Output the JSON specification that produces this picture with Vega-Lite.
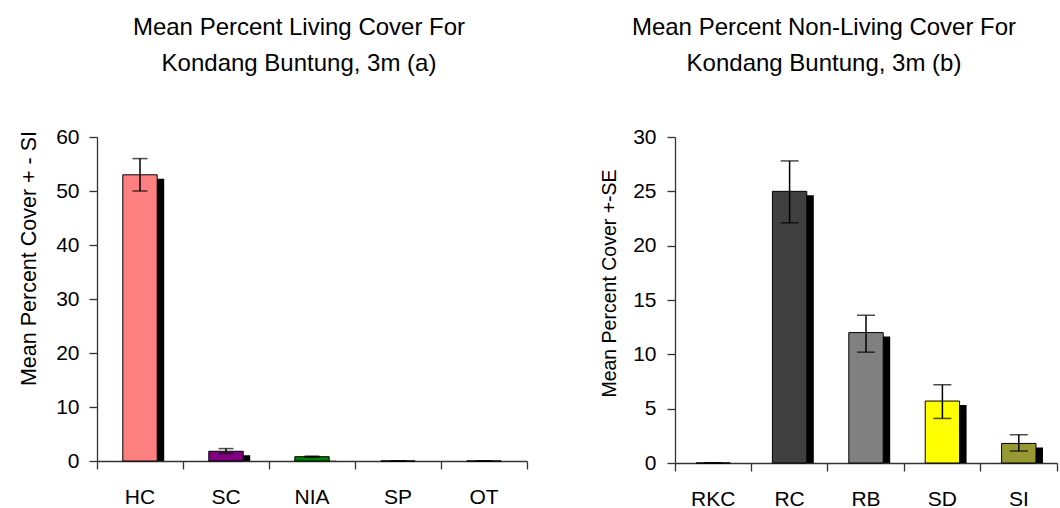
{
  "$schema": "https://vega.github.io/schema/vega-lite/v6.json",
  "padding": {"left": 17, "top": 16, "right": 4, "bottom": 0},
  "background": "white",
  "bounds": "flush",
  "spacing": 148,
  "resolve": {"scale": {"color": "independent"}},
  "config": {
    "font": "Liberation Sans, Arial, sans-serif",
    "view": {"stroke": null},
    "axis": {
      "labelFont": "Liberation Sans, Arial, sans-serif",
      "labelFontSize": 21,
      "labelColor": "black",
      "titleFont": "Liberation Sans, Arial, sans-serif",
      "titleFontSize": 21.5,
      "titleFontWeight": "normal",
      "titleColor": "black",
      "domainColor": "#333333",
      "tickColor": "#333333",
      "domainWidth": 1.3,
      "tickWidth": 1.3,
      "tickSize": 8,
      "grid": false
    },
    "title": {
      "font": "Liberation Sans, Arial, sans-serif",
      "fontSize": 24,
      "fontWeight": "normal",
      "color": "black",
      "lineHeight": 36,
      "anchor": "middle"
    }
  },
  "datasets": {
    "living": [
      {"cat": "HC", "mean": 53.0, "lo": 50.0, "hi": 56.0},
      {"cat": "SC", "mean": 1.8, "lo": 1.4, "hi": 2.3},
      {"cat": "NIA", "mean": 0.8, "lo": 0.7, "hi": 0.9},
      {"cat": "SP", "mean": 0.0, "lo": 0.0, "hi": 0.0},
      {"cat": "OT", "mean": 0.0, "lo": 0.0, "hi": 0.0}
    ],
    "nonliving": [
      {"cat": "RKC", "mean": 0.0, "lo": 0.0, "hi": 0.0},
      {"cat": "RC", "mean": 25.0, "lo": 22.1, "hi": 27.8},
      {"cat": "RB", "mean": 12.0, "lo": 10.2, "hi": 13.6},
      {"cat": "SD", "mean": 5.7, "lo": 4.1, "hi": 7.2},
      {"cat": "SI", "mean": 1.8, "lo": 1.1, "hi": 2.6}
    ]
  },
  "hconcat": [
    {
      "width": 430,
      "height": 324,
      "title": {"text": ["Mean Percent Living Cover For", "Kondang Buntung, 3m (a)"], "dx": -13, "offset": 50},
      "data": {"name": "living"},
      "encoding": {
        "x": {
          "field": "cat", "type": "nominal", "sort": null,
          "scale": {"paddingInner": 0, "paddingOuter": 0},
          "axis": {"title": null, "labelAngle": 0, "bandPosition": 1, "tickExtra": true, "labelPadding": 17, "labelBaseline": "top"}
        }
      },
      "layer": [
        {
          "mark": {"type": "bar", "width": {"band": 0.4}, "color": "black", "xOffset": 7, "x2Offset": 7, "yOffset": 4, "clip": true},
          "encoding": {
            "y": {"field": "mean", "type": "quantitative", "scale": {"domain": [0, 60]},
              "axis": {"values": [0, 10, 20, 30, 40, 50, 60], "title": "Mean Percent Cover + - SI", "labelPadding": 10, "titleX": -68, "titleY": 121, "titleAlign": "center", "titleBaseline": "middle", "titleAngle": -90}}
          }
        },
        {
          "mark": {"type": "bar", "width": {"band": 0.4}, "stroke": "black", "strokeWidth": 1},
          "encoding": {
            "y": {"field": "mean", "type": "quantitative"},
            "color": {"field": "cat", "type": "nominal", "legend": null,
              "scale": {"domain": ["HC", "SC", "NIA", "SP", "OT"], "range": ["#FF8080", "#800080", "#008000", "#000080", "#000000"]}}
          }
        },
        {
          "mark": {"type": "rule", "color": "black", "strokeWidth": 1.5},
          "encoding": {"y": {"field": "lo", "type": "quantitative"}, "y2": {"field": "hi"}}
        },
        {
          "mark": {"type": "tick", "color": "black", "size": 15, "thickness": 1.5},
          "encoding": {"y": {"field": "lo", "type": "quantitative"}}
        },
        {
          "mark": {"type": "tick", "color": "black", "size": 15, "thickness": 1.5},
          "encoding": {"y": {"field": "hi", "type": "quantitative"}}
        }
      ]
    },
    {
      "width": 382,
      "height": 326,
      "title": {"text": ["Mean Percent Non-Living Cover For", "Kondang Buntung, 3m (b)"], "dx": -42, "offset": 50},
      "data": {"name": "nonliving"},
      "encoding": {
        "x": {
          "field": "cat", "type": "nominal", "sort": null,
          "scale": {"paddingInner": 0, "paddingOuter": 0},
          "axis": {"title": null, "labelAngle": 0, "bandPosition": 1, "tickExtra": true, "labelPadding": 17, "labelBaseline": "top"}
        }
      },
      "layer": [
        {
          "mark": {"type": "bar", "width": {"band": 0.45}, "color": "black", "xOffset": 7, "x2Offset": 7, "yOffset": 4, "clip": true},
          "encoding": {
            "y": {"field": "mean", "type": "quantitative", "scale": {"domain": [0, 30]},
              "axis": {"values": [0, 5, 10, 15, 20, 25, 30], "title": "Mean Percent Cover +-SE", "titleFontSize": 19.5, "labelPadding": 11, "titleX": -66, "titleY": 146, "titleAlign": "center", "titleBaseline": "middle", "titleAngle": -90}}
          }
        },
        {
          "mark": {"type": "bar", "width": {"band": 0.45}, "stroke": "black", "strokeWidth": 1},
          "encoding": {
            "y": {"field": "mean", "type": "quantitative"},
            "color": {"field": "cat", "type": "nominal", "legend": null,
              "scale": {"domain": ["RKC", "RC", "RB", "SD", "SI"], "range": ["#000000", "#404040", "#808080", "#FFFF00", "#999933"]}}
          }
        },
        {
          "mark": {"type": "rule", "color": "black", "strokeWidth": 1.5},
          "encoding": {"y": {"field": "lo", "type": "quantitative"}, "y2": {"field": "hi"}}
        },
        {
          "mark": {"type": "tick", "color": "black", "size": 18, "thickness": 1.5},
          "encoding": {"y": {"field": "lo", "type": "quantitative"}}
        },
        {
          "mark": {"type": "tick", "color": "black", "size": 18, "thickness": 1.5},
          "encoding": {"y": {"field": "hi", "type": "quantitative"}}
        }
      ]
    }
  ]
}
